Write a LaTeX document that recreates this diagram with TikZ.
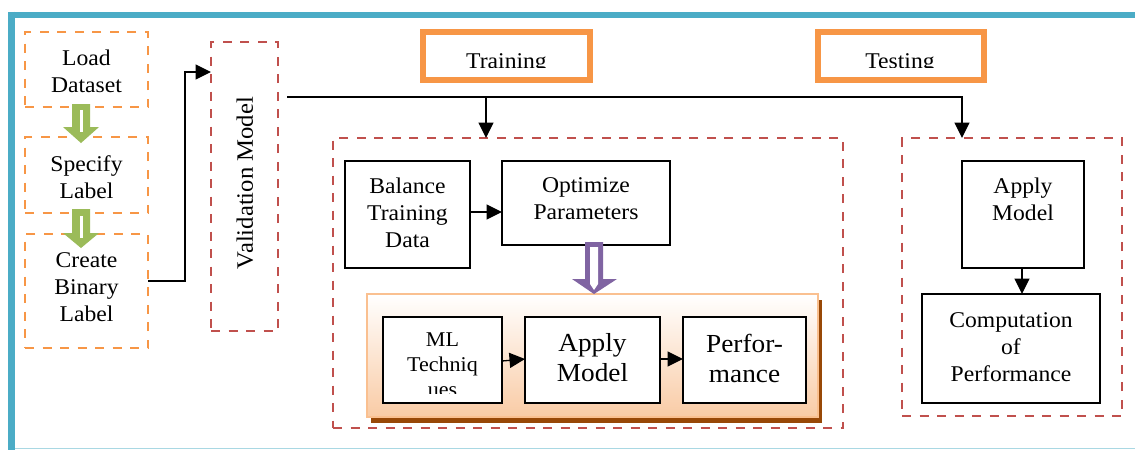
\documentclass[tikz,border=0pt]{standalone}
\usepackage{fontspec}
\setmainfont{Liberation Serif}[FakeStretch=1.05]
\usetikzlibrary{arrows.meta,shadows,calc}
\definecolor{tealA}{HTML}{4BACC6}
\definecolor{tealB}{HTML}{A9D8E3}
\definecolor{orgA}{HTML}{F79646}
\definecolor{redA}{HTML}{C0504D}
\definecolor{grnA}{HTML}{9BBB59}
\definecolor{purA}{HTML}{8064A2}
\definecolor{peachA}{HTML}{F9CBA5}
\definecolor{peachL}{HTML}{FAC090}
\definecolor{brownA}{HTML}{984807}
\begin{document}
\begin{tikzpicture}[x=1pt,y=-1pt,
 txt/.style={align=center, font=\fontsize{22.5}{27}\selectfont, inner sep=0pt},
 bigtxt/.style={align=center, font=\fontsize{26}{30}\selectfont, inner sep=0pt},
 smalltxt/.style={align=center, font=\fontsize{21}{25}\selectfont, inner sep=0pt},
 shp/.style={inner sep=0pt, outer sep=0pt},
 obox/.style={shp, draw=orgA, line width=2.7pt, dash pattern=on 9pt off 8.5pt},
 rbox/.style={shp, draw=redA, line width=2.7pt, dash pattern=on 9pt off 8.5pt},
 bbox/.style={shp, draw=black, line width=1.8pt, fill=white},
 tagbox/.style={shp, draw=orgA, line width=6pt, fill=white},
 conn/.style={line width=1.3pt},
 arr/.style={conn, -{Triangle[length=15.5pt,width=15pt]}},
]
\useasboundingbox (0,0) rectangle (1135,450);
\fill[white] (0,0) rectangle (1135,450);

% frame
\draw[tealB, line width=1.5pt] (11,448.3) -- (1135,448.3);
\draw[tealA, line width=6.6pt] (8.3,15) -- (1135,15);
\draw[tealA, line width=6.6pt] (11.7,11.7) -- (11.7,450);

% left column
\node[obox, minimum width=123pt, minimum height=75pt] (load) at (86.5,69.5) {};
\node[txt] (loadt) at (86.5,71) {Load\\Dataset};
\node[obox, minimum width=123pt, minimum height=76pt] (spec) at (86.5,175) {};
\node[txt] (spect) at (86.5,177) {Specify\\Label};
\node[obox, minimum width=123pt, minimum height=114pt] (create) at (86.5,291) {};
\node[txt] (createt) at (86.5,287) {Create\\Binary\\Label};

\fill[grnA] (72,104) -- (90,104) -- (90,127) -- (99,127) -- (81,143) -- (63,127) -- (72,127) -- cycle;
\fill[white] (79.5,110) rectangle (83,132);
\fill[grnA] (72,209) -- (90,209) -- (90,233) -- (99,233) -- (81,248) -- (63,233) -- (72,233) -- cycle;
\fill[white] (79.5,216) rectangle (83,238);

% validation
\node[rbox, minimum width=67pt, minimum height=289pt] (val) at (244.5,186.5) {};
\node[txt, font=\fontsize{23.5}{27}\selectfont, rotate=90] (valt) at (245,183) {Validation Model};

\draw[arr] ([yshift=10pt]create.east) -- ++(37,0) |- ([yshift=114.5pt]val.west);

% training / testing tags
\node[tagbox, minimum width=167pt, minimum height=48pt] (trtag) at (506.5,56) {};
\begin{scope}
\clip (426,35) rectangle (587,67);
\node[txt, anchor=base] (trt) at (506.5,68) {Training};
\end{scope}
\node[tagbox, minimum width=166pt, minimum height=48pt] (tstag) at (901,56) {};
\begin{scope}
\clip (821,35) rectangle (981,67);
\node[txt, anchor=base] (tst) at (900,68) {Testing};
\end{scope}

% training block
\node[rbox, minimum width=510pt, minimum height=290pt] (trn) at (588,283) {};
\node[bbox, minimum width=125pt, minimum height=107pt] (bal) at (407.5,214.5) {};
\node[txt] (balt) at (407.5,213) {Balance\\Training\\Data};
\node[bbox, minimum width=168pt, minimum height=84pt] (opt) at (586,203) {};
\node[txt] (optt) at (586,199) {Optimize\\Parameters};
\draw[arr] ([yshift=2.5pt]bal.east) -- ([yshift=2.5pt]bal.east -| opt.west);

\node[shp, draw=peachL, line width=2pt, top color=white, bottom color=peachA,
  drop shadow={shadow xshift=4pt, shadow yshift=-6pt, fill=brownA, opacity=1},
  minimum width=451pt, minimum height=123pt] (cont) at (592.5,355.5) {};

\fill[purA] (585,242) -- (603,242) -- (603,279) -- (617,279) -- (594,294) -- (572,279) -- (585,279) -- cycle;
\fill[white] (590,247) -- (598,247) -- (598,284) -- (594,290) -- (590,284) -- cycle;

\node[bbox, minimum width=119pt, minimum height=86pt] (ml) at (442.5,360) {};
\begin{scope}
\clip (384,318) rectangle (501,393);
\node[smalltxt] (mlt) at (442.5,365) {ML\\Techniq\\ues};
\end{scope}
\node[bbox, minimum width=135pt, minimum height=86pt] (app) at (592.5,360) {};
\node[bigtxt] (appt) at (592.5,358) {Apply\\Model};
\node[bbox, minimum width=123pt, minimum height=86pt] (perf) at (744.5,360) {};
\node[bigtxt] (perft) at (744.5,358) {Perfor-\\mance};
\draw[arr] ([yshift=-1pt]ml.east) -- ([yshift=1pt]app.west);
\draw[arr] ([yshift=1pt]app.east) -- ([yshift=1pt]perf.west);

% testing block
\node[rbox, minimum width=220pt, minimum height=278pt] (tstb) at (1012,277) {};
\node[bbox, minimum width=122pt, minimum height=107pt] (tapp) at (1023,214.5) {};
\node[txt] (tappt) at (1023,199) {Apply\\Model};
\node[bbox, minimum width=178pt, minimum height=109pt] (comp) at (1011,348.5) {};
\node[txt] (compt) at (1011,347) {Computation\\of\\Performance};
\draw[arr] ([xshift=-1pt]tapp.south) -- ([xshift=-1pt]tapp.south |- comp.north);

% bus
\coordinate (bus) at (287,97);
\coordinate (trin) at ([xshift=-102pt]trn.north);
\coordinate (tsin) at ([xshift=-50pt]tstb.north);
\draw[arr] (bus) -| (tsin);
\draw[arr] (trin |- bus) -- (trin);
\end{tikzpicture}
\end{document}
